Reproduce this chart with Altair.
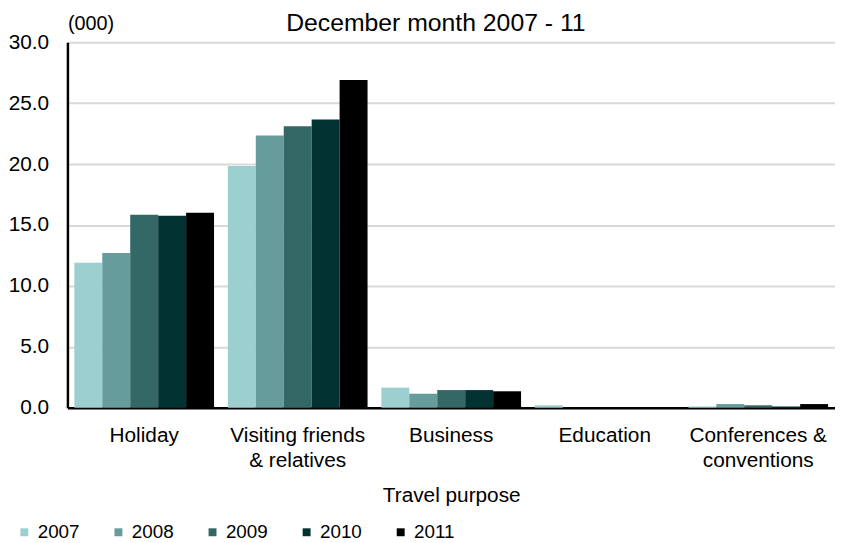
import altair as alt
import pandas as pd

title_text = "December month 2007 - 11"
categories = ["Holiday", "Visiting friends|& relatives", "Business", "Education", "Conferences &|conventions"]
years = ["2007", "2008", "2009", "2010", "2011"]
v2007 = [11.9, 19.85, 1.65, 0.2, 0.1]
v2008 = [12.7, 22.35, 1.15, 0.0, 0.3]
v2009 = [15.85, 23.1, 1.45, 0.0, 0.2]
v2010 = [15.75, 23.65, 1.45, 0.0, 0.1]
v2011 = [16.0, 26.9, 1.35, 0.0, 0.3]
colors = ["#9bcfd0", "#669c9b", "#336867", "#033233", "#000000"]
y_ticks = [0, 5, 10, 15, 20, 25, 30]

series = [v2007, v2008, v2009, v2010, v2011]
rows = []
for yr, vals in zip(years, series):
    for cat, v in zip(categories, vals):
        rows.append({"purpose": cat, "year": yr, "value": v})
df = pd.DataFrame(rows)

FONT = "Liberation Sans"

bars = alt.Chart(df).mark_bar().encode(
    x=alt.X(
        "purpose:N",
        sort=categories,
        scale=alt.Scale(paddingInner=0.09, paddingOuter=0.045),
        axis=alt.Axis(
            title="Travel purpose",
            labelExpr="split(datum.label, '|')",
            labelAngle=0,
            ticks=False,
            domainColor="black",
            domainWidth=2.5,
            labelFontSize=21,
            labelLineHeight=25,
            labelPadding=17,
            labelColor="black",
            titleFontSize=21,
            titleFontWeight="normal",
            titleColor="black",
            titlePadding=15,
        ),
    ),
    xOffset=alt.XOffset("year:N", sort=years),
    y=alt.Y(
        "value:Q",
        scale=alt.Scale(domain=[0, 30]),
        axis=alt.Axis(
            values=y_ticks,
            format=".1f",
            title="(000)",
            titleAngle=0,
            titleX=0,
            titleY=-13,
            titleAlign="left",
            titleBaseline="alphabetic",
            titleFontSize=20,
            titleFontWeight="normal",
            titleColor="black",
            ticks=False,
            domainColor="black",
            domainWidth=2.5,
            gridColor="#d9d9d9",
            gridWidth=2,
            labelFontSize=21,
            labelColor="black",
            labelPadding=19,
        ),
    ),
    color=alt.Color(
        "year:N",
        sort=years,
        scale=alt.Scale(domain=years, range=colors),
        legend=alt.Legend(
            title=None,
            orient="none",
            legendX=-53,
            legendY=485,
            direction="horizontal",
            symbolType="square",
            symbolSize=64,
            symbolStrokeWidth=0,
            symbolOpacity=1,
            labelFontSize=19,
            labelColor="black",
            labelOffset=4,
            columnPadding=29,
        ),
    ),
)

title = alt.Chart(pd.DataFrame({"t": [title_text]})).mark_text(
    fontSize=25,
    color="black",
    align="center",
    baseline="alphabetic",
).encode(
    text="t:N",
    x=alt.value(372),
    y=alt.value(-11),
)

chart = alt.layer(bars, title).properties(
    width=775,
    height=369,
    autosize=alt.AutoSizeParams(type="none"),
    padding={"left": 60, "top": 32, "right": 0, "bottom": 135},
).configure(
    font=FONT,
).configure_view(
    stroke=None,
)

chart.save("out.html", embed_options={"renderer": "svg", "actions": False})
